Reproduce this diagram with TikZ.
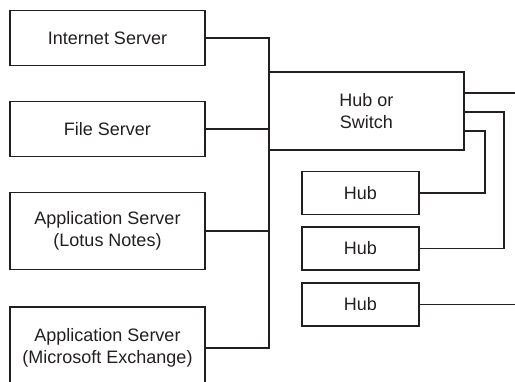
\documentclass[tikz,border=0pt]{standalone}
\usepackage{fontspec}
\setmainfont{Liberation Sans}
\definecolor{ink}{HTML}{231F20}
\begin{document}
\begin{tikzpicture}[x=1pt,y=-1pt,
  box/.style={draw=ink,line width=1.8pt,rectangle,inner sep=0pt,
    align=center,font=\fontsize{18}{21.5}\selectfont,text=ink},
  server/.style={box,minimum width=195pt},
  hubbox/.style={box,minimum width=117pt,minimum height=43pt},
  wire/.style={draw=ink,line width=1.4pt}]
\useasboundingbox (0,0) rectangle (515,382);

% servers on the left
\node[server,minimum height=55pt] (inet) at (107.5,38) {Internet Server};
\node[server,minimum height=55pt] (file) at (107.5,129) {File Server};
\node[server,minimum height=77pt] (lotus) at (107.5,231) {Application Server\\(Lotus Notes)};
\node[server,minimum height=82pt] (exch) at (107.5,348) {Application Server\\(Microsoft Exchange)};

% central hub or switch and the hubs below it
\node[box,minimum width=195pt,minimum height=78pt] (switch) at (366.5,111) {Hub or\\Switch};
\node[hubbox] (hubA) at (360.5,193) {Hub};
\node[hubbox] (hubB) at (360.5,248.5) {Hub};
\node[hubbox] (hubC) at (360.5,304.5) {Hub};

% backbone joining the servers
\coordinate (ttop) at (269,38);
\coordinate (tbot) at (269,348);
\draw[wire] (inet.east) -- (ttop) -- (tbot) -- (exch.east);
\draw[wire] (file.east) -- (file.east -| ttop);
\draw[wire] (lotus.east) -- (lotus.east -| ttop);

% links leaving the switch
\coordinate (outA) at (515,93);
\coordinate (outB) at (515,304.5);
\draw[wire] (switch.east |- outA) -- (outA);
\draw[wire] (switch.east |- 0,112) -- (504,112) |- (hubB.east);
\draw[wire] (switch.east |- 0,131) -- (485,131) |- (hubA.east);
\draw[wire] (hubC.east) -- (outB);
\end{tikzpicture}
\end{document}
